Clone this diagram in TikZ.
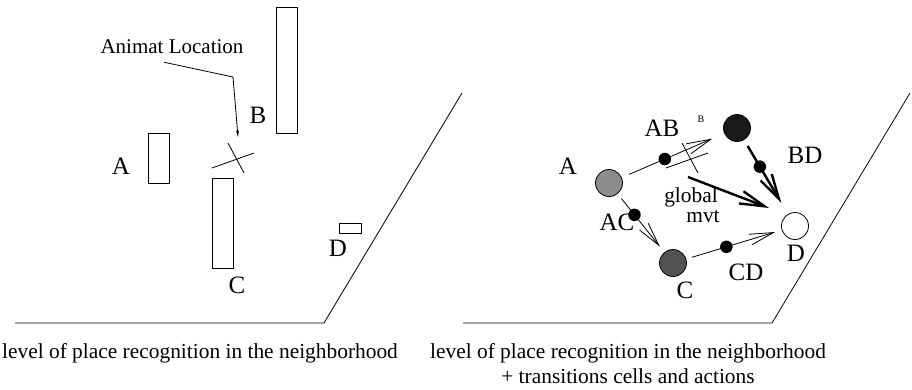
\documentclass[tikz,border=0pt]{standalone}
\usepackage{fontspec}
\setmainfont{Liberation Serif}
\usetikzlibrary{arrows.meta,positioning}
\tikzset{
  mapwall/.style   = {rectangle, draw=black, line width=0.8pt, inner sep=0pt},
  mapname/.style   = {font=\fontsize{25}{30}\selectfont, inner sep=0pt},
  mapnote/.style   = {font=\fontsize{21}{25}\selectfont, inner sep=0pt},
  mapcapt/.style   = {font=\fontsize{21.4}{25}\selectfont, align=center, inner sep=0pt},
  mapcell/.style   = {circle, draw=black, line width=0.8pt, minimum size=27pt, inner sep=0pt},
  mapdot/.style    = {circle, fill=black, minimum size=12.5pt, inner sep=0pt},
  maptrans/.style  = {-{Straight Barb[length=24pt,width=11pt]}, line width=0.8pt},
  mapmove/.style   = {-{Straight Barb[length=25pt,width=13pt]}, line width=2.4pt},
  mapline/.style   = {line width=0.8pt},
}

\begin{document}
\begin{tikzpicture}[x=1pt,y=-1pt]
  \useasboundingbox (0,0) rectangle (912,389);

  % left panel: landmarks of the room
  \node[mapwall, minimum width=21pt, minimum height=50pt]  (wallA) at (158.5,158) {};
  \node[mapwall, minimum width=21pt, minimum height=126pt] (wallB) at (286.5,70)  {};
  \node[mapwall, minimum width=21pt, minimum height=90pt]  (wallC) at (222.5,223) {};
  \node[mapwall, minimum width=22pt, minimum height=10pt]  (wallD) at (350,228)   {};
  \node[mapname] (lblA) at (121,166) {A};
  \node[mapname] (lblB) at (258,115) {B};
  \node[mapname] (lblC) at (237,285) {C};
  \node[mapname] (lblD) at (338,248) {D};

  \node[mapnote] (loc) at (172,47) {Animat Location};
  \coordinate (bend)   at (233,77);
  \coordinate (animat) at (238,137);
  \draw[mapline, -{Stealth[length=7pt,width=3pt]}] ([xshift=-8pt,yshift=-8pt]loc.south) -- (bend) -- (animat);

  % animat cross and floor, same in both panels
  \foreach \dx in {0,454}
    \draw[mapline] (212+\dx,168) -- (254+\dx,153) (228+\dx,143) -- (244+\dx,173);
  \foreach \dx in {0,448}
    \draw[mapline] (15+\dx,323) -- (324+\dx,323) -- (462+\dx,93);

  % right panel: place cells and transitions
  \node[mapcell, fill=black!45] (A) at (609,183) {};
  \node[mapcell, fill=black!90] (B) at (737,128) {};
  \node[mapcell, fill=black!68] (C) at (673,263) {};
  \node[mapcell, fill=white]    (D) at (795,226) {};

  \draw[maptrans, shorten <=8pt, shorten >=13pt] (A) -- node[mapdot, pos=0.42]{} (B);
  \draw[maptrans, shorten <=6pt, shorten >=7pt]  (A) -- node[mapdot, pos=0.36]{} (C);
  \draw[maptrans, shorten <=6pt, shorten >=7pt]  (C) -- node[mapdot, pos=0.42]{} (D);
  \draw[mapmove,  shorten <=7pt, shorten >=13pt] (B) -- node[mapdot, pos=0.36]{} (D);

  \coordinate (mvtfrom) at (688,177);
  \coordinate (mvtto)   at (769,208);
  \draw[mapmove] (mvtfrom) -- (mvtto);

  \node[mapname] (cellA)  at (568,166) {A};
  \node[mapname] (cellAB) at (662,128) {AB};
  \node[inner sep=0pt, font=\fontsize{10}{12}\selectfont] (smallB) at (701,119) {B};
  \node[mapname] (cellAC) at (617,222) {AC};
  \node[mapname] (cellBD) at (805,155) {BD};
  \node[mapname] (cellCD) at (746,272) {CD};
  \node[mapname] (cellC)  at (685,290) {C};
  \node[mapname] (cellD)  at (796,253) {D};
  \node[mapcapt] (glob) at (691,197) {global};
  \node[mapcapt] (mvt)  at (703,217) {mvt};

  % captions
  \node[mapcapt] (captL) at (200,353) {level of place recognition in the neighborhood};
  \node[mapcapt, anchor=north] (captR) at (628,343.6)
        {level of place recognition in the neighborhood\\+ transitions cells and actions};
\end{tikzpicture}
\end{document}
